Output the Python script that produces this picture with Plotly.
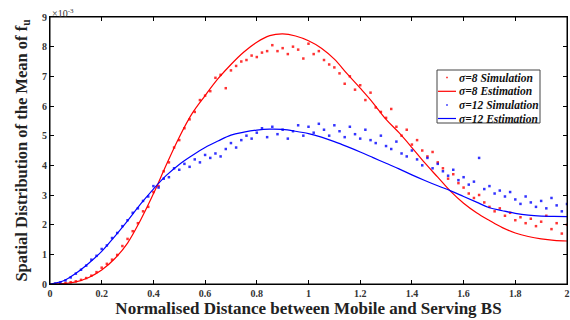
import plotly.graph_objects as go

# values are in units of 1e-3
x_est = [0.00, 0.05, 0.10, 0.15, 0.20, 0.25, 0.30, 0.35, 0.40, 0.45, 0.50, 0.55, 0.60, 0.65, 0.70,
         0.75, 0.80, 0.85, 0.90, 0.95, 1.00, 1.05, 1.10, 1.15, 1.20, 1.25, 1.30, 1.35, 1.40, 1.45,
         1.50, 1.55, 1.60, 1.65, 1.70, 1.75, 1.80, 1.85, 1.90, 1.95, 2.00]
red_est = [0.00, 0.01, 0.07, 0.22, 0.47, 0.85, 1.38, 2.15, 3.04, 4.02, 4.95, 5.75, 6.35, 6.92, 7.40,
           7.82, 8.15, 8.37, 8.43, 8.36, 8.20, 7.95, 7.58, 7.08, 6.60, 6.10, 5.55, 5.10, 4.60, 4.08,
           3.60, 3.12, 2.72, 2.40, 2.14, 1.90, 1.72, 1.60, 1.52, 1.47, 1.45]
blue_est = [0.00, 0.10, 0.36, 0.70, 1.10, 1.60, 2.13, 2.69, 3.20, 3.66, 4.03, 4.33, 4.60, 4.82, 5.02,
            5.12, 5.19, 5.22, 5.21, 5.15, 5.07, 4.95, 4.80, 4.63, 4.45, 4.26, 4.07, 3.88, 3.68, 3.49,
            3.31, 3.14, 2.95, 2.76, 2.57, 2.47, 2.38, 2.32, 2.29, 2.28, 2.27]

x_sim = [round(0.02 * i, 2) for i in range(1, 101)]
red_sim = [0.00, 0.01, 0.03, 0.06, 0.09, 0.14, 0.20, 0.28, 0.40, 0.55,
           0.68, 0.82, 0.98, 1.28, 1.52, 1.78, 2.05, 2.45, 2.60, 3.10,
           3.30, 3.80, 4.10, 4.60, 4.85, 5.25, 5.55, 5.80, 6.20, 6.35,
           6.50, 6.95, 7.05, 6.60, 7.20, 7.35, 7.50, 7.55, 7.70, 7.65,
           7.80, 7.85, 8.05, 7.85, 7.95, 7.75, 8.00, 7.90, 7.60, 8.10,
           7.75, 7.85, 7.55, 7.40, 7.30, 7.10, 6.75, 7.00, 6.55, 6.70,
           6.20, 6.45, 5.95, 5.80, 5.60, 5.90, 5.30, 5.00, 5.20, 4.70,
           4.85, 4.50, 4.30, 4.45, 4.10, 3.90, 3.55, 3.70, 3.40, 3.25,
           3.05, 2.90, 3.00, 2.75, 2.60, 2.45, 2.55, 2.30, 2.40, 2.15,
           2.25, 2.05, 2.20, 1.95, 2.10, 2.30, 1.85, 2.05, 1.70, 2.00]
blue_sim = [0.01, 0.05, 0.12, 0.22, 0.35, 0.48, 0.62, 0.82, 0.95, 1.18,
            1.30, 1.55, 1.72, 1.95, 2.15, 2.40, 2.55, 2.80, 2.95, 3.30,
            3.25, 3.55, 3.60, 3.90, 3.85, 4.05, 3.95, 4.20, 4.10, 4.35,
            4.25, 4.40, 4.30, 4.55, 4.75, 4.60, 4.85, 5.00, 4.90, 5.10,
            5.25, 4.95, 5.30, 5.05, 5.20, 4.90, 5.15, 5.35, 5.00, 5.30,
            5.10, 5.40, 5.20, 5.00, 5.35, 5.15, 4.95, 5.30, 5.05, 4.90,
            5.20, 4.85, 4.75, 5.00, 4.65, 4.55, 4.80, 4.40, 4.30, 4.50,
            4.20, 4.00, 4.25, 3.90, 4.05, 3.80, 3.65, 3.85, 3.50, 3.60,
            3.35, 3.45, 4.25, 3.20, 3.30, 3.05, 3.15, 2.95, 3.10, 2.85,
            2.70, 2.95, 2.75, 2.60, 2.80, 2.55, 2.90, 2.65, 2.45, 2.70]

x_ticks = [0, 0.2, 0.4, 0.6, 0.8, 1, 1.2, 1.4, 1.6, 1.8, 2]
x_tick_text = ["0", "0.2", "0.4", "0.6", "0.8", "1", "1.2", "1.4", "1.6", "1.8", "2"]
y_ticks = [0, 1, 2, 3, 4, 5, 6, 7, 8, 9]

legend_labels = ["σ=8 Simulation", "σ=8 Estimation", "σ=12 Simulation", "σ=12 Estimation"]

RED = "#ff0000"
BLUE = "#0000ff"
FONT = "Liberation Serif"

fig = go.Figure()
fig.add_trace(go.Scatter(x=x_sim, y=red_sim, mode="markers", name=legend_labels[0],
                         marker=dict(color=RED, size=2.5, symbol="square", opacity=0.8)))
fig.add_trace(go.Scatter(x=x_est, y=red_est, mode="lines", name=legend_labels[1],
                         line=dict(color=RED, width=1.2, shape="spline")))
fig.add_trace(go.Scatter(x=x_sim, y=blue_sim, mode="markers", name=legend_labels[2],
                         marker=dict(color=BLUE, size=2.5, symbol="square", opacity=0.8)))
fig.add_trace(go.Scatter(x=x_est, y=blue_est, mode="lines", name=legend_labels[3],
                         line=dict(color=BLUE, width=1.2, shape="spline")))

axis_common = dict(showgrid=False, zeroline=False, showline=True, linecolor="black", linewidth=1,
                   mirror="ticks", ticks="inside", ticklen=4, tickcolor="black", automargin=False,
                   ticklabeloverflow="allow",
                   tickfont=dict(family=FONT, size=10, color="#333333"))

L, R, T, B = 50, 3, 17, 36
W, H = 570, 320
PW, PH = W - L - R, H - T - B

fig.update_layout(
    width=W, height=H,
    margin=dict(l=L, r=R, t=T, b=B),
    paper_bgcolor="white", plot_bgcolor="white",
    font=dict(family=FONT, color="#222222"),
    showlegend=False,
    xaxis=dict(range=[0, 2], tickvals=x_ticks, ticktext=["<b>%s</b>" % t for t in x_tick_text],
               title=dict(text="<b>Normalised Distance between Mobile and Serving BS</b>",
                          font=dict(size=17, family=FONT, color="#222222"), standoff=2),
               **axis_common),
    yaxis=dict(range=[0, 9], tickvals=y_ticks, ticktext=["<b>%d</b>" % t for t in y_ticks],
               title=dict(text="<b>Spatial Distribution of the Mean of f<sub>u</sub></b>",
                          font=dict(size=16.5, family=FONT, color="#222222"), standoff=10),
               **axis_common),
)

# plot frame
fig.add_shape(type="rect", xref="paper", yref="paper", x0=0, x1=1, y0=0, y1=1,
              line=dict(color="black", width=1), layer="above")

# custom compact legend box (paper coordinates, from pixel layout)
def px(xp):
    return (xp - L) / PW

def py(yp):
    return (H - B - yp) / PH

fig.add_shape(type="rect", xref="paper", yref="paper", x0=px(437), x1=px(540), y0=py(123), y1=py(70),
              line=dict(color="#444444", width=1), fillcolor="white", layer="above")
rows_y = [77.5, 91.3, 105, 118.5]
for i, (label, tr) in enumerate(zip(legend_labels, fig.data)):
    yy = py(rows_y[i])
    if tr.mode == "markers":
        fig.add_shape(type="rect", xref="paper", yref="paper",
                      x0=px(446.3), x1=px(447.7), y0=py(rows_y[i] + 0.7), y1=py(rows_y[i] - 0.7),
                      line=dict(width=0), fillcolor=tr.marker.color, layer="above")
    else:
        fig.add_shape(type="line", xref="paper", yref="paper", x0=px(438), x1=px(456), y0=yy, y1=yy,
                      line=dict(color=tr.line.color, width=1.2), layer="above")
    fig.add_annotation(x=px(457), y=yy, xref="paper", yref="paper", xanchor="left", yanchor="middle",
                       text="<b><i>%s</i></b>" % label, showarrow=False,
                       font=dict(family=FONT, size=11.5, color="#111111"))

fig.add_annotation(x=0, y=1, xref="paper", yref="paper", xanchor="left", yanchor="bottom",
                   text="×10<sup>-3</sup>", showarrow=False, xshift=0, yshift=-4,
                   font=dict(family=FONT, size=10, color="#333333"))

fig.write_html("out.html", config={"displayModeBar": False},
               post_script="document.body.style.margin='0';")
